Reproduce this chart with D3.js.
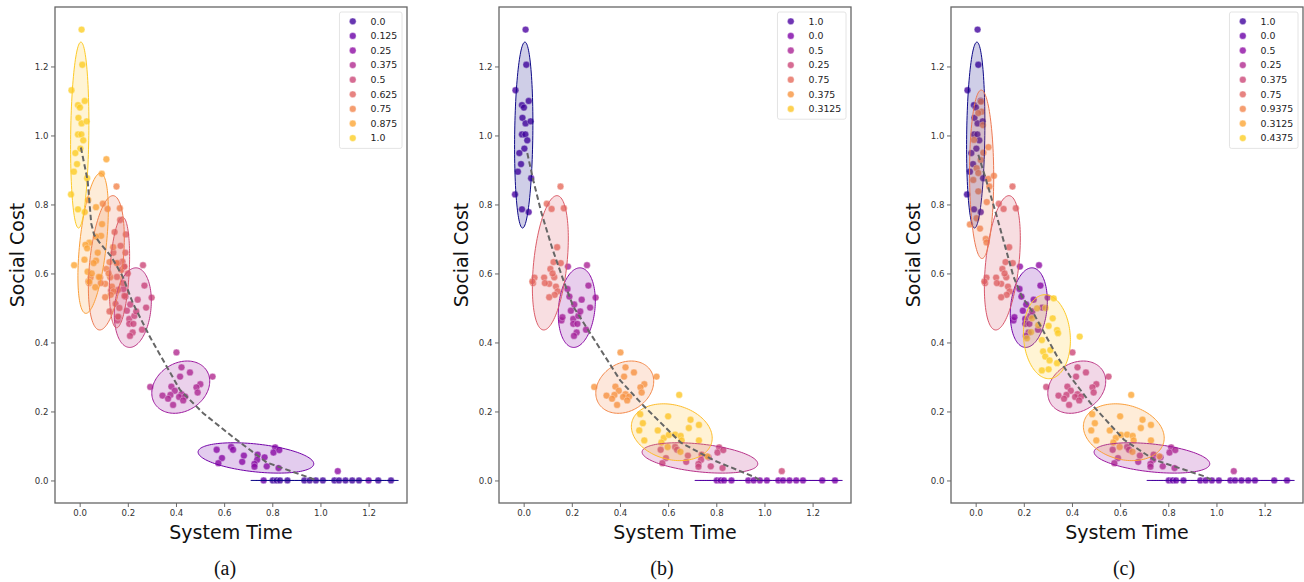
<!DOCTYPE html>
<html>
<head>
<meta charset="utf-8">
<script src="https://cdn.jsdelivr.net/npm/d3@7"></script>
<style>
body { margin: 0; background: #fff; }
text { font-family: "DejaVu Sans", sans-serif; }
</style>
</head>
<body>
<svg id="fig" width="1304" height="582"></svg>
<script>
// point clouds, one per parameter value: [system time, social cost]
const g1_0 = [[0.008,1.307],[0.011,1.205],[-0.034,1.131],[0.021,1.100],[-0.007,1.088],[0.001,1.081],[-0.005,1.051],[0.008,1.035],[0.029,1.041],[-0.007,1.003],[0.007,1.003],[0.015,0.986],[0.003,0.962],[-0.018,0.949],[-0.011,0.917],[-0.024,0.895],[0.031,0.876],[-0.036,0.829],[-0.007,0.786],[0.021,0.778]];
const g0_9375 = [[0.022,1.098],[0.025,1.069],[0.011,1.065],[-0.007,0.987],[0.053,0.966],[0.021,0.929],[0.004,0.905],[0.011,0.891],[-0.010,0.871],[0.053,0.874],[0.076,0.883],[0.057,0.852],[0.011,0.838],[0.046,0.807],[0.004,0.760],[-0.024,0.742],[0.018,0.730],[0.042,0.700],[0.032,0.950],[0.030,1.030],[0.045,0.690]];
const g0_875 = [[0.111,0.931],[0.092,0.889],[0.035,0.813],[0.068,0.792],[0.093,0.743],[0.089,0.709],[0.068,0.707],[0.040,0.689],[0.024,0.683],[0.031,0.673],[-0.023,0.624],[0.068,0.637],[0.058,0.630],[0.033,0.605],[0.050,0.600],[0.040,0.576],[0.080,0.590],[0.065,0.560],[0.020,0.640],[0.075,0.660]];
const g0_75 = [[0.153,0.852],[0.116,0.787],[0.167,0.789],[0.096,0.802],[0.139,0.676],[0.124,0.633],[0.154,0.630],[0.111,0.613],[0.127,0.589],[0.106,0.570],[0.085,0.588],[0.039,0.572],[0.045,0.588],[0.036,0.577],[0.088,0.572],[0.134,0.562],[0.141,0.548],[0.129,0.538],[0.106,0.531],[0.120,0.600]];
const g0_625 = [[0.168,0.755],[0.192,0.713],[0.178,0.634],[0.159,0.630],[0.174,0.611],[0.186,0.620],[0.155,0.590],[0.159,0.552],[0.180,0.572],[0.149,0.512],[0.186,0.535],[0.159,0.475],[0.124,0.490],[0.170,0.680],[0.140,0.660],[0.200,0.600],[0.130,0.550],[0.165,0.500],[0.145,0.720],[0.190,0.660]];
const g0_5 = [[0.263,0.624],[0.184,0.620],[0.269,0.565],[0.299,0.530],[0.182,0.555],[0.190,0.533],[0.241,0.524],[0.276,0.501],[0.196,0.492],[0.206,0.468],[0.227,0.477],[0.206,0.454],[0.223,0.454],[0.259,0.437],[0.220,0.429],[0.209,0.419],[0.157,0.464],[0.161,0.473],[0.210,0.510],[0.235,0.490]];
const g0_4375 = [[0.324,0.528],[0.255,0.499],[0.303,0.448],[0.338,0.436],[0.342,0.427],[0.432,0.417],[0.234,0.470],[0.213,0.412],[0.275,0.407],[0.280,0.374],[0.310,0.378],[0.289,0.359],[0.307,0.348],[0.338,0.340],[0.275,0.319],[0.303,0.322],[0.260,0.450],[0.290,0.500],[0.230,0.430],[0.320,0.470]];
const g0_375 = [[0.402,0.371],[0.423,0.328],[0.458,0.313],[0.417,0.301],[0.552,0.301],[0.293,0.271],[0.381,0.272],[0.501,0.279],[0.485,0.270],[0.395,0.260],[0.490,0.255],[0.344,0.246],[0.377,0.248],[0.423,0.250],[0.413,0.242],[0.438,0.243],[0.367,0.237],[0.430,0.232],[0.388,0.219]];
const g0_3125 = [[0.646,0.248],[0.484,0.192],[0.495,0.166],[0.480,0.145],[0.501,0.116],[0.557,0.145],[0.600,0.186],[0.582,0.123],[0.572,0.110],[0.603,0.132],[0.629,0.133],[0.652,0.129],[0.656,0.116],[0.598,0.097],[0.651,0.083],[0.693,0.176],[0.686,0.152],[0.728,0.161],[0.728,0.116],[0.763,0.070]];
const g0_25 = [[0.569,0.089],[0.629,0.097],[0.637,0.089],[0.591,0.065],[0.576,0.050],[0.682,0.072],[0.675,0.054],[0.739,0.075],[0.737,0.060],[0.726,0.048],[0.726,0.040],[0.768,0.067],[0.777,0.041],[0.812,0.096],[0.805,0.081],[0.829,0.088],[0.826,0.036],[1.072,0.027]];
const g0_125 = [[0.764,0.000],[1.200,0.000]];
const g0_0 = [[0.802,0],[0.818,0],[0.832,0],[0.863,0],[0.933,0],[0.955,0],[0.981,0],[1.010,0],[1.058,0],[1.077,0],[1.104,0],[1.132,0],[1.160,0],[1.240,0],[1.293,0]];

// panel (a)
const labelsA = ["0.0","0.125","0.25","0.375","0.5","0.625","0.75","0.875","1.0"];
const groupsA = [g0_0, g0_125, g0_25, g0_375, g0_5, g0_625, g0_75, g0_875, g1_0];
const trendA = [[0.005,0.965],[0.033,0.870],[0.048,0.745],[0.060,0.712],[0.082,0.690],[0.131,0.649],[0.179,0.591],[0.221,0.514],[0.291,0.417],[0.416,0.263],[0.513,0.195],[0.638,0.125],[0.777,0.052],[0.958,0.007],[0.985,0.0]];

// panel (b)
const labelsB = ["1.0","0.0","0.5","0.25","0.75","0.375","0.3125"];
const groupsB = [g1_0, g0_0, g0_5, g0_25, g0_75, g0_375, g0_3125];
const trendB = [[0.015,0.949],[0.040,0.870],[0.074,0.775],[0.120,0.670],[0.164,0.582],[0.206,0.504],[0.276,0.427],[0.401,0.290],[0.500,0.215],[0.652,0.110],[0.791,0.058],[0.958,0.010],[0.985,0.0]];

// panel (c)
const labelsC = ["1.0","0.0","0.5","0.25","0.375","0.75","0.9375","0.3125","0.4375"];
const groupsC = [g1_0, g0_0, g0_5, g0_25, g0_375, g0_75, g0_9375, g0_3125, g0_4375];
const trendC = [[0.011,0.944],[0.039,0.881],[0.088,0.765],[0.157,0.591],[0.192,0.533],[0.240,0.485],[0.338,0.360],[0.394,0.300],[0.477,0.224],[0.616,0.118],[0.741,0.060],[0.950,0.012],[0.985,0.0]];

const tickVals = [0, 0.2, 0.4, 0.6, 0.8, 1.0, 1.2];
const captions = ["(a)", "(b)", "(c)"];

// layout
const panelLeft = [55, 499, 951],
    captionX = [225, 662, 1124],
    panelTop = 7, W = 352, H = 496;

const svg = d3.select("#fig");

// covariance ellipse outline (n_std = 2) in data coords
function ellipsePts(pts, nstd) {
    const n = pts.length;
    const mx = d3.mean(pts, d => d[0]), my = d3.mean(pts, d => d[1]);
    let a = 0, b = 0, d = 0;
    pts.forEach(p => {
        a += (p[0]-mx)*(p[0]-mx);
        b += (p[0]-mx)*(p[1]-my);
        d += (p[1]-my)*(p[1]-my);
    });
    a /= n-1; b /= n-1; d /= n-1;
    const tr = (a+d)/2, disc = Math.sqrt(((a-d)/2)*((a-d)/2) + b*b);
    const l1 = tr + disc, l2 = Math.max(tr - disc, 0);
    const th = 0.5*Math.atan2(2*b, a-d);
    const c = Math.cos(th), s = Math.sin(th);
    const r1 = nstd*Math.sqrt(l1), r2 = nstd*Math.sqrt(l2);
    return d3.range(0, 121).map(i => {
        const t = i/120*2*Math.PI;
        const u = r1*Math.cos(t), v = r2*Math.sin(t);
        return [mx + u*c - v*s, my + u*s + v*c];
    });
}

function drawPanel(k, labels, groups, trend) {
    const all = groups.flat();
    const xe = d3.extent(all, d => d[0]), ye = d3.extent(all, d => d[1]);
    const xp = (xe[1]-xe[0])*0.05, yp = (ye[1]-ye[0])*0.05;
    const x = d3.scaleLinear().domain([xe[0]-xp, xe[1]+xp]).range([0, W]);
    const y = d3.scaleLinear().domain([ye[0]-yp, ye[1]+yp]).range([H, 0]);
    const n = labels.length;
    const ptColor = i => d3.interpolatePlasma((i+1)/(n+1));
    const elColor = i => d3.interpolatePlasma(i/n);

    const g = svg.append("g").attr("transform", `translate(${panelLeft[k]},${panelTop})`);

    // axes
    const xa = g.append("g").attr("transform", `translate(0,${H})`)
        .call(d3.axisBottom(x).tickValues(tickVals).tickFormat(d3.format(".1f")).tickSize(4).tickPadding(2.5));
    const ya = g.append("g")
        .call(d3.axisLeft(y).tickValues(tickVals).tickFormat(d3.format(".1f")).tickSize(4).tickPadding(2.5));
    [xa, ya].forEach(a => {
        a.select(".domain").remove();
        a.selectAll("line").attr("stroke", "#444").attr("stroke-width", 0.8);
        a.selectAll("text").attr("fill", "#333").style("font-size", "8.6px")
            .style("font-family", "DejaVu Sans, sans-serif");
    });

    // scatter points
    groups.forEach((pts, i) => {
        g.append("g").selectAll("circle").data(pts).join("circle")
            .attr("cx", d => x(d[0])).attr("cy", d => y(d[1]))
            .attr("r", 3.4)
            .attr("fill", ptColor(i)).attr("fill-opacity", 0.8)
            .attr("stroke", "#fff").attr("stroke-width", 0.4);
    });

    // ellipses
    const line = d3.line().x(d => x(d[0])).y(d => y(d[1]));
    groups.forEach((pts, i) => {
        if (pts.length < 6) return;
        g.append("path").datum(ellipsePts(pts, 2))
            .attr("d", line)
            .attr("fill", elColor(i)).attr("fill-opacity", 0.2)
            .attr("stroke", elColor(i)).attr("stroke-width", 1);
    });

    // dashed trend
    g.append("path").datum(trend)
        .attr("d", line)
        .attr("fill", "none").attr("stroke", "#666").attr("stroke-width", 2)
        .attr("stroke-dasharray", "5.5,3");

    // frame
    g.append("rect").attr("width", W).attr("height", H)
        .attr("fill", "none").attr("stroke", "#666").attr("stroke-width", 1.3);

    // legend
    const lg = g.append("g");
    const rowH = 14.6, boxTop = 5, firstRow = boxTop + 9.3;
    const box = lg.append("rect");
    const texts = labels.map((l, i) => lg.append("text")
        .attr("y", firstRow + i*rowH).attr("dy", "0.35em")
        .style("font-size", "9.4px").attr("fill", "#222").text(l));
    const maxW = d3.max(texts, t => t.node().getComputedTextLength());
    const boxRight = W - 5, textX = boxRight - 4.7 - maxW, markX = textX - 17.7, boxLeft = markX - 13.3;
    texts.forEach(t => t.attr("x", textX));
    labels.forEach((l, i) => {
        lg.append("circle").attr("cx", markX).attr("cy", firstRow + i*rowH).attr("r", 3.4)
            .attr("fill", ptColor(i)).attr("fill-opacity", 0.8)
            .attr("stroke", "#fff").attr("stroke-width", 0.4);
    });
    box.attr("x", boxLeft).attr("y", boxTop)
        .attr("width", boxRight - boxLeft).attr("height", (n-1)*rowH + 19.6)
        .attr("rx", 2).attr("fill", "#fff").attr("fill-opacity", 0.8)
        .attr("stroke", "#ddd").attr("stroke-width", 0.8);

    // axis titles
    g.append("text").attr("x", W/2).attr("y", 532).attr("text-anchor", "middle")
        .style("font-size", "19px").attr("fill", "#111").text("System Time");
    g.append("text").attr("transform", `translate(-31,${H/2}) rotate(-90)`)
        .attr("text-anchor", "middle").style("font-size", "19px").attr("fill", "#111").text("Social Cost");

    // sub caption
    svg.append("text").attr("x", captionX[k]).attr("y", 575).attr("text-anchor", "middle")
        .style("font-family", "Liberation Serif, Times New Roman, serif").style("font-size", "20px")
        .attr("fill", "#111").text(captions[k]);
}

drawPanel(0, labelsA, groupsA, trendA);
drawPanel(1, labelsB, groupsB, trendB);
drawPanel(2, labelsC, groupsC, trendC);
</script>
</body>
</html>
